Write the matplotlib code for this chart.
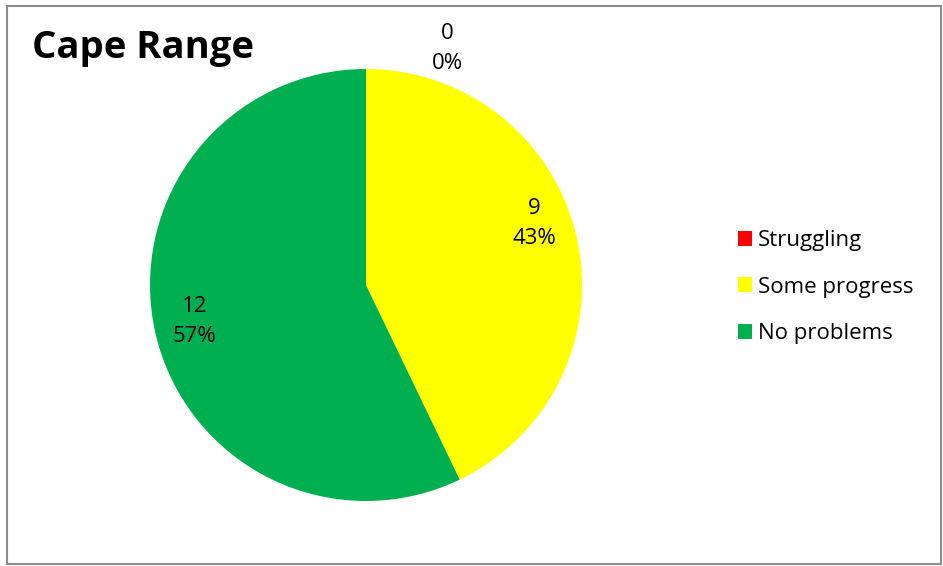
import matplotlib
matplotlib.use("Agg")
import matplotlib.pyplot as plt
from matplotlib.patches import Rectangle

plt.rcParams['font.family'] = ['Open Sans', 'DejaVu Sans']

title = "Cape Range"
categories = ["Struggling", "Some progress", "No problems"]
values = [0, 9, 12]
colors = ["#FF0000", "#FFFF00", "#00B050"]
# label anchor points (in pie radius units)
label_pos = [(0.375, 1.095), (0.78, 0.285), (-0.795, -0.17)]

W, H = 943, 566
fig = plt.figure(figsize=(W / 100, H / 100), dpi=100)
fig.patch.set_facecolor("white")

# outer chart-area frame
fig.add_artist(Rectangle((6.5 / W, 2.5 / H), 934 / W, 558 / H, transform=fig.transFigure,
                         fill=False, edgecolor="#8C8C8C", linewidth=1.5))

cx, cy, r = 366, 285, 216
ax = fig.add_axes([(cx - r) / W, (H - cy - r) / H, 2 * r / W, 2 * r / H])
wedges, _ = ax.pie(values, colors=colors, startangle=90, counterclock=False,
                   radius=1, wedgeprops=dict(linewidth=0))
ax.set_xlim(-1, 1)
ax.set_ylim(-1, 1)
ax.set_aspect("auto")
ax.axis("off")

total = sum(values)
for v, (x, y) in zip(values, label_pos):
    ax.text(x, y, f"{v}\n{round(100 * v / total)}%", ha="center", va="center",
            fontsize=16, linespacing=1.55, color="black", clip_on=False)

fig.text(32 / W, 1 - 48 / H, title, fontsize=27.5, fontweight="bold", ha="left", va="center")

fig.legend(wedges, categories, loc="center left", bbox_to_anchor=(738 / W, 1 - 287 / H),
           frameon=False, fontsize=16, handlelength=0.65, handleheight=0.65,
           handletextpad=0.25, labelspacing=1.15, borderpad=0, borderaxespad=0)

fig.savefig("out.png", dpi=100, facecolor="white")
